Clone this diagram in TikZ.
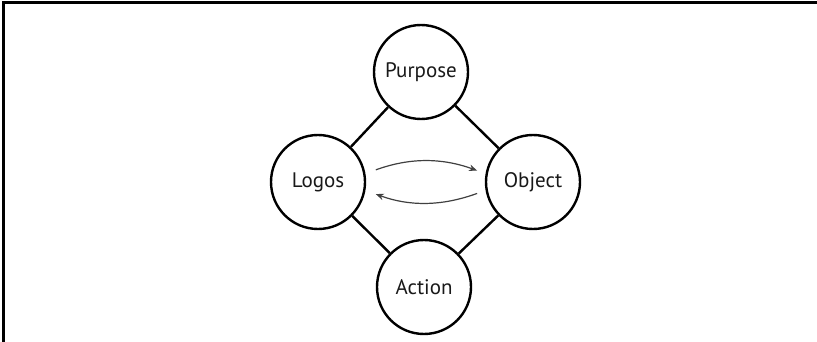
\documentclass[tikz,border=0pt]{standalone}
\usepackage{fontspec}
\setmainfont{PT Sans}
\usetikzlibrary{arrows.meta}

\begin{document}
\begin{tikzpicture}[x=1pt,y=-1pt,
  station/.style={circle, draw=black, line width=2.4pt, minimum size=94pt, inner sep=0pt,
    font=\fontsize{21}{25}\selectfont, text=black!90},
  link/.style={line width=2.4pt},
  flow/.style={line width=1.2pt, black!75, -{Stealth[length=8pt,width=6.5pt]}}]
\useasboundingbox (0,0) rectangle (817,342);
\draw[line width=3pt] (3,342)--(3,3)--(817,3);
\node[station] (purpose) at (421,72) {Purpose};
\node[station] (logos) at (318,182) {Logos};
\node[station] (object) at (533,182) {Object};
\node[station] (action) at (424,287) {Action};
\draw[link] (purpose) -- (logos);
\draw[link] (purpose) -- (object);
\draw[link] (logos) -- (action);
\draw[link] (object) -- (action);
\draw[flow, shorten <=11pt, shorten >=9pt] (logos.10) to[bend left=20] (object.170);
\draw[flow, shorten <=9pt, shorten >=11pt] (object.190) to[bend left=20] (logos.-10);
\end{tikzpicture}
\end{document}
